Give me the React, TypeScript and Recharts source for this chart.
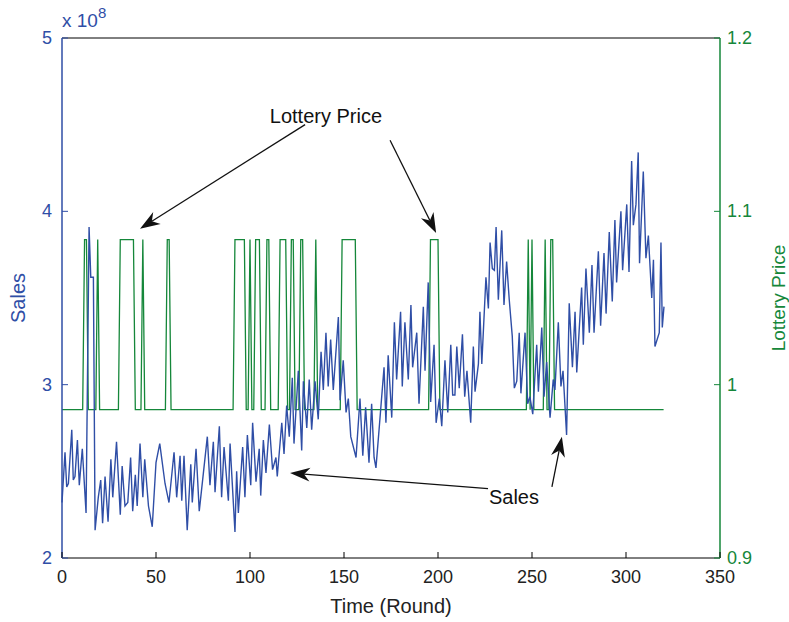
import React from "react";
import {
  LineChart,
  Line,
  XAxis,
  YAxis,
  ReferenceLine,
  ReferenceDot,
  Label,
} from "recharts";

const BLUE = "#2f4ea6";
const GREEN = "#15873a";
const FONT = "'Liberation Sans', Arial, Helvetica, sans-serif";

// sales, in units of 1e8 (round, value)
const salesRound = [
  0, 1.6, 2.5, 3.4, 5.2, 6, 6.9, 8.2, 9.2, 10.8, 12.8, 14.4, 15.3, 16.7, 17.6,
  19.3, 20.6, 21.6, 22.9, 24.5, 26, 27, 29, 31, 32, 33.5, 35, 36.5, 37.6, 39,
  40, 41.5, 43, 44, 46, 48, 50, 52, 54.8, 56.9, 59.6, 61, 62.8, 63.7, 64.9,
  66.6, 68.5, 69.3, 71.3, 73, 75.2, 77.3, 78.7, 80.5, 81.4, 83.7, 84.9, 86.2,
  88.5, 89.4, 92, 92.9, 93.8, 96.1, 97.3, 98.6, 100.4, 101.4, 103.2, 104.9,
  105.7, 107.1, 108.5, 110.3, 112, 113.8, 114.5, 116.9, 118.1, 119.5, 120.9,
  122.5, 123.4, 125.7, 127.5, 128.4, 130.2, 131.5, 132.8, 134.6, 136.3, 137.8,
  139, 140.4, 141.6, 142.9, 144.3, 147, 147.9, 149.6, 151.1, 152.3, 153.6,
  156.4, 158.5, 160, 161.5, 163.3, 164.7, 166, 167, 168.8, 171.3, 172.3, 173.5,
  175.4, 176.8, 178, 180.1, 181, 182.4, 184.2, 185.6, 186.5, 188.7, 189.9,
  192.2, 193.1, 194.8, 196.1, 197.9, 199, 200.7, 202, 203.7, 205.2, 206.8,
  207.8, 209, 210, 211.3, 213, 214.2, 215.4, 217.4, 218.8, 219.7, 221.5, 222.3,
  223.3, 225.5, 226.8, 227.7, 228.9, 230, 230.9, 232.1, 233.9, 235.1, 236.5,
  237.9, 239.5, 240.6, 241.9, 243.2, 244.1, 246.3, 247.7, 248.9, 250.4, 252.5,
  253.4, 255.2, 256.4, 257.8, 259.6, 261.3, 262.2, 264, 265.4, 266.5, 268.4,
  269.8, 271.5, 272.9, 273.8, 276.4, 277.3, 278.7, 280.5, 281.9, 283, 285.3,
  286.5, 288.3, 289.4, 291.1, 292.7, 294.1, 295, 297.3, 298.2, 300.4, 301.6,
  303, 303.9, 305.3, 306.5, 307.2, 309.2, 310.6, 311.9, 313.7, 314.6, 315.4,
  317.7, 318.6, 319.3, 320.2,
];
const salesValue = [
  2.32, 2.61, 2.41, 2.43, 2.74, 2.45, 2.47, 2.68, 2.42, 2.63, 2.26, 3.91, 3.62,
  3.62, 2.16, 2.35, 2.45, 2.2, 2.47, 2.21, 2.57, 2.35, 2.67, 2.25, 2.53, 2.3,
  2.32, 2.58, 2.27, 2.48, 2.3, 2.66, 2.35, 2.57, 2.3, 2.18, 2.55, 2.66, 2.43,
  2.32, 2.61, 2.35, 2.59, 2.33, 2.59, 2.16, 2.54, 2.32, 2.63, 2.27, 2.49, 2.7,
  2.42, 2.67, 2.38, 2.76, 2.35, 2.64, 2.33, 2.66, 2.15, 2.5, 2.26, 2.64, 2.35,
  2.71, 2.42, 2.78, 2.44, 2.63, 2.36, 2.68, 2.49, 2.77, 2.51, 2.58, 2.47, 2.78,
  2.6, 2.88, 2.7, 3.04, 2.66, 3.08, 2.62, 3.02, 2.75, 3.03, 2.74, 3.02, 2.8,
  3.19, 2.97, 3.3, 2.99, 3.26, 2.97, 3.39, 2.91, 3.14, 2.84, 2.92, 2.7, 2.58,
  2.92, 2.59, 2.87, 2.55, 2.89, 2.58, 2.52, 2.76, 3.1, 2.78, 3.17, 2.81, 3.36,
  3.03, 3.42, 2.99, 3.36, 3.03, 3.46, 3.1, 3.3, 2.89, 3.45, 3.08, 3.59, 2.9,
  3.23, 2.78, 2.92, 2.76, 3.14, 2.84, 3.23, 2.94, 2.94, 3.22, 2.98, 3.29, 2.93,
  3.08, 2.78, 3.22, 2.96, 3.12, 3.42, 3.12, 3.62, 3.44, 3.82, 3.67, 3.66, 3.91,
  3.49, 3.89, 3.46, 3.71, 3.49, 3.28, 2.98, 3.02, 3.3, 2.95, 3.3, 2.89, 2.93,
  2.83, 3.23, 2.96, 3.33, 2.93, 3.13, 2.81, 3.03, 2.97, 3.36, 2.99, 3.08, 2.71,
  3.47, 3.1, 3.42, 3.07, 3.56, 3.23, 3.67, 3.3, 3.69, 3.3, 3.77, 3.34, 3.76,
  3.41, 3.88, 3.48, 3.95, 3.59, 4.0, 3.66, 4.04, 3.65, 4.29, 3.92, 4.04, 4.34,
  3.7, 4.23, 3.73, 3.86, 3.5, 3.72, 3.22, 3.3, 3.82, 3.33, 3.45,
];

// lottery price: two levels, high during these runs of rounds
const priceHigh = 1.0837;
const priceLow = 0.9856;
const priceHighRuns: [number, number][] = [
  [12, 13], [19, 19], [31, 38], [43, 43], [56, 57], [92, 97], [100, 100],
  [103, 105], [109, 110], [116, 119], [122, 123], [127, 128], [135, 135],
  [149, 156], [196, 200], [248, 248], [250, 250], [257, 257], [260, 261],
];
const lastRound = 320;

const xTicks = [0, 50, 100, 150, 200, 250, 300, 350];
const salesTicks = [2, 3, 4, 5];
const priceTicks = [0.9, 1, 1.1, 1.2];

const salesData = salesRound.map((t, i) => ({ t, sales: salesValue[i] }));
const priceData = Array.from({ length: lastRound + 1 }, (_, t) => ({
  t,
  price: priceHighRuns.some(([a, b]) => t >= a && t <= b) ? priceHigh : priceLow,
}));

const BottomTick = (p: any) => (
  <g>
    <line x1={p.x} y1={p.y} x2={p.x} y2={p.y - 6} stroke="#000" />
    <text x={p.x} y={p.y + 25} textAnchor="middle" fill="#222" fontSize={18} fontFamily={FONT}>
      {p.payload.value}
    </text>
  </g>
);

const LeftTick = (p: any) => (
  <g>
    <line x1={p.x} y1={p.y} x2={p.x + 6} y2={p.y} stroke={BLUE} />
    <text x={p.x - 10} y={p.y + 6} textAnchor="end" fill={BLUE} fontSize={18} fontFamily={FONT}>
      {p.payload.value}
    </text>
  </g>
);

const RightTick = (p: any) => (
  <g>
    <line x1={p.x} y1={p.y} x2={p.x - 6} y2={p.y} stroke={GREEN} />
    <text x={p.x + 7} y={p.y + 6} textAnchor="start" fill={GREEN} fontSize={18} fontFamily={FONT}>
      {String(p.payload.value)}
    </text>
  </g>
);

const Arrow = (p: any) => {
  const { x1, y1, x2, y2 } = p;
  if (x1 == null || x2 == null) return null;
  const dx = x2 - x1;
  const dy = y2 - y1;
  const L = Math.hypot(dx, dy) || 1;
  const ux = dx / L;
  const uy = dy / L;
  const len = 20;
  const w = 7;
  const bx = x2 - ux * len;
  const by = y2 - uy * len;
  const ix = x2 - ux * len * 0.7;
  const iy = y2 - uy * len * 0.7;
  const pts = [
    [x2, y2],
    [bx - uy * w, by + ux * w],
    [ix, iy],
    [bx + uy * w, by - ux * w],
  ]
    .map((q) => q.join(","))
    .join(" ");
  return (
    <g>
      <line x1={x1} y1={y1} x2={ix} y2={iy} stroke="#111" strokeWidth={1.3} />
      <polygon points={pts} fill="#111" />
    </g>
  );
};

export default function App() {
  return (
    <div style={{ position: "absolute", left: 0, top: 0, background: "#fff" }}>
      <LineChart
        width={789}
        height={622}
        margin={{ top: 38, right: 0, bottom: 0, left: 0 }}
        style={{ fontFamily: FONT }}
      >
        <XAxis
          dataKey="t"
          type="number"
          domain={[0, 350]}
          ticks={xTicks}
          interval={0}
          height={64}
          stroke="#000"
          tickSize={0}
          tickMargin={0}
          tick={<BottomTick />}
        >
          <Label
            content={(props: any) => {
              const vb = props.viewBox;
              return (
                <text x={vb.x + vb.width / 2} y={vb.y + 55} textAnchor="middle" fill="#222" fontSize={20} fontFamily={FONT}>
                  Time (Round)
                </text>
              );
            }}
          />
        </XAxis>
        <YAxis
          yAxisId="left"
          orientation="left"
          type="number"
          domain={[2, 5]}
          ticks={salesTicks}
          interval={0}
          width={62}
          stroke={BLUE}
          strokeWidth={1.5}
          tickSize={0}
          tickMargin={0}
          tick={<LeftTick />}
        >
          <Label
            content={(props: any) => {
              const vb = props.viewBox;
              const cx = vb.x + 18;
              const cy = vb.y + vb.height / 2;
              return (
                <g>
                  <text x={cx} y={cy} transform={`rotate(-90, ${cx}, ${cy})`} textAnchor="middle" dominantBaseline="central" fill={BLUE} fontSize={20} fontFamily={FONT}>
                    Sales
                  </text>
                  <text x={vb.x + vb.width} y={vb.y - 11} fill={BLUE} fontSize={19} fontFamily={FONT}>
                    x 10
                    <tspan dy={-9} fontSize={15}>8</tspan>
                  </text>
                </g>
              );
            }}
          />
        </YAxis>
        <YAxis
          yAxisId="right"
          orientation="right"
          type="number"
          domain={[0.9, 1.2]}
          ticks={priceTicks}
          interval={0}
          width={69}
          stroke={GREEN}
          strokeWidth={1.5}
          tickSize={0}
          tickMargin={0}
          tick={<RightTick />}
        >
          <Label
            content={(props: any) => {
              const vb = props.viewBox;
              const cx = vb.x + 58;
              const cy = vb.y + vb.height / 2;
              return (
                <text x={cx} y={cy} transform={`rotate(-90, ${cx}, ${cy})`} textAnchor="middle" dominantBaseline="central" fill={GREEN} fontSize={19} fontFamily={FONT}>
                  Lottery Price
                </text>
              );
            }}
          />
        </YAxis>
        <ReferenceLine yAxisId="left" y={5} stroke="#000" strokeWidth={1} />
        <Line
          yAxisId="right"
          data={priceData}
          dataKey="price"
          type="linear"
          stroke={GREEN}
          strokeWidth={1.3}
          dot={false}
          isAnimationActive={false}
        />
        <Line
          yAxisId="left"
          data={salesData}
          dataKey="sales"
          type="linear"
          stroke={BLUE}
          strokeWidth={1.4}
          dot={false}
          isAnimationActive={false}
        />
        <ReferenceLine yAxisId="left" segment={[{ x: 129.3, y: 4.5 }, { x: 41.5, y: 3.9 }]} shape={(p: any) => <Arrow {...p} />} />
        <ReferenceLine yAxisId="left" segment={[{ x: 174.5, y: 4.41 }, { x: 199, y: 3.875 }]} shape={(p: any) => <Arrow {...p} />} />
        <ReferenceLine yAxisId="left" segment={[{ x: 226.6, y: 2.4 }, { x: 121.3, y: 2.49 }]} shape={(p: any) => <Arrow {...p} />} />
        <ReferenceLine yAxisId="left" segment={[{ x: 260.6, y: 2.41 }, { x: 265.9, y: 2.7 }]} shape={(p: any) => <Arrow {...p} />} />
        <ReferenceDot
          yAxisId="left"
          x={140.4}
          y={4.55}
          r={1}
          fill="none"
          stroke="none"
          label={{ value: "Lottery Price", position: "center", fill: "#111", fontSize: 20, fontFamily: FONT }}
        />
        <ReferenceDot
          yAxisId="left"
          x={240.4}
          y={2.35}
          r={1}
          fill="none"
          stroke="none"
          label={{ value: "Sales", position: "center", fill: "#111", fontSize: 20, fontFamily: FONT }}
        />
      </LineChart>
    </div>
  );
}
